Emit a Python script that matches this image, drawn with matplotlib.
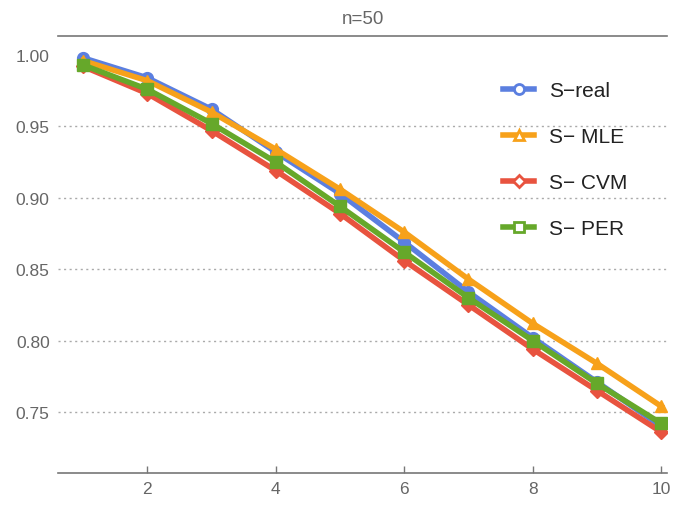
import matplotlib
matplotlib.use("Agg")
import matplotlib.pyplot as plt
from matplotlib.lines import Line2D

x = [1, 2, 3, 4, 5, 6, 7, 8, 9, 10]
s_real = [0.998, 0.984, 0.962, 0.932, 0.903, 0.869, 0.834, 0.802, 0.771, 0.740]
s_mle = [0.996, 0.982, 0.960, 0.934, 0.906, 0.876, 0.843, 0.812, 0.784, 0.754]
s_cvm = [0.992, 0.973, 0.947, 0.919, 0.889, 0.856, 0.825, 0.794, 0.765, 0.736]
s_per = [0.993, 0.976, 0.952, 0.925, 0.894, 0.862, 0.830, 0.800, 0.770, 0.742]
labels = ["S\u2212real", "S\u2212 MLE", "S\u2212 CVM", "S\u2212 PER"]
yticks = [0.75, 0.80, 0.85, 0.90, 0.95, 1.00]
xticks = [2, 4, 6, 8, 10]

plt.rcParams['font.family'] = ['Liberation Sans Narrow', 'Liberation Sans', 'DejaVu Sans']

fig = plt.figure(figsize=(6.89, 5.06), dpi=100)
ax = fig.add_axes([58/689, 1-474/506, (667-58)/689, (474-37)/506])

series = [
    (s_real, '#5b7fe0', 'o'),
    (s_mle, '#f7a11a', '^'),
    (s_cvm, '#e8533f', 'D'),
    (s_per, '#66a82a', 's'),
]
handles = []
for i, (vals, c, m) in enumerate(series):
    ms = 8.5 if m != 'D' else 7.5
    ax.plot(x, vals, color=c, lw=4.0, marker=m, ms=ms, mec=c, mfc=c, zorder=3 + i * 0.1)
    handles.append(Line2D([0], [0], color=c, lw=4, marker=m, ms=ms * 0.85, mec=c, mfc='white', mew=2))

ax.set_xlim(0.61, 10.09)
ax.set_ylim(0.7073, 1.0133)
ax.set_yticks(yticks)
ax.set_yticklabels([f"{v:.2f}" for v in yticks])
ax.set_xticks(xticks)
ax.set_xticklabels([str(v) for v in xticks])
for v in yticks[:-1]:
    ax.axhline(v, color='#aaaaaa', lw=1.0, ls=(0, (1.5, 2.5)), zorder=1)

for s in ['left', 'right']:
    ax.spines[s].set_visible(False)
for s in ['top', 'bottom']:
    ax.spines[s].set_color('#777777')
    ax.spines[s].set_linewidth(1.2)

ax.tick_params(axis='y', length=0, labelsize=12.5, labelcolor='#666666', pad=6)
ax.tick_params(axis='x', direction='in', length=5, width=1, color='#777777', labelsize=12.5, labelcolor='#666666', pad=6)

ax.set_title("n=50", fontsize=13.5, color='#666666', pad=9)

leg = ax.legend(handles, labels, loc='upper left', bbox_to_anchor=(0.70, 0.94), frameon=False,
                fontsize=15, handlelength=1.5, labelspacing=1.3, handletextpad=0.7)
for t in leg.get_texts():
    t.set_color('#222222')

fig.savefig("out.png", dpi=100)
